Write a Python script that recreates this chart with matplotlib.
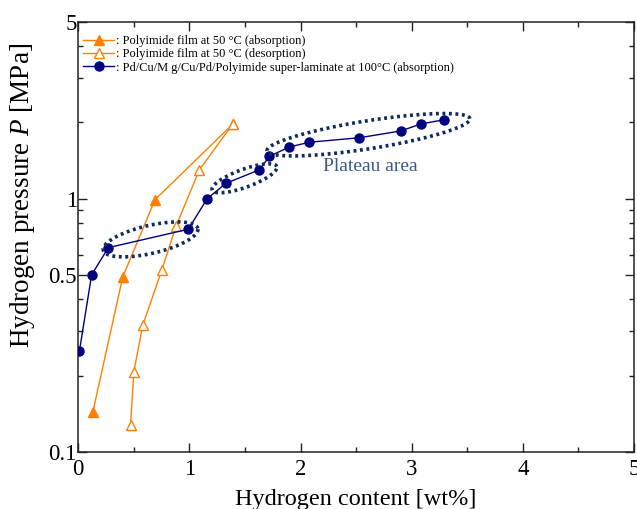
import numpy as np
import matplotlib
matplotlib.use("Agg")
import matplotlib.pyplot as plt
from matplotlib.ticker import FixedLocator, NullFormatter, FixedFormatter

plt.rcParams['font.family'] = ['Liberation Serif', 'DejaVu Serif']
plt.rcParams['mathtext.fontset'] = 'custom'
plt.rcParams['mathtext.rm'] = 'Liberation Serif'
plt.rcParams['mathtext.it'] = 'Liberation Serif:italic'

# ---- data ----
abs_x = [0.13, 0.40, 0.69, 1.39]
abs_p = [0.143, 0.49, 0.99, 1.97]

des_x = [1.39, 1.09, 0.88, 0.75, 0.58, 0.50, 0.47]
des_p = [1.97, 1.30, 0.78, 0.52, 0.316, 0.207, 0.127]

lam_x = [0.01, 0.12, 0.27, 0.99, 1.16, 1.33, 1.63, 1.72, 1.90, 2.08, 2.53, 2.90, 3.08, 3.29]
lam_p = [0.25, 0.50, 0.64, 0.757, 1.00, 1.15, 1.30, 1.47, 1.60, 1.67, 1.74, 1.85, 1.97, 2.05]

labels = [": Polyimide film at 50 °C (absorption)",
          ": Polyimide film at 50 °C (desorption)",
          ": Pd/Cu/M g/Cu/Pd/Polyimide super-laminate at 100°C (absorption)"]

# ellipses: center (x, P), semi-axes in pixels, angle deg
ell_cx = [0.65, 1.495, 2.611]
ell_cp = [0.690, 1.203, 1.788]
ell_a = [48.5, 34.4, 102.7]
ell_b = [14.0, 9.0, 14.0]
ell_ang = [13, 20, 9]

orange = '#FF8000'
navy = '#00007F'
dotc = '#0F2A5E'

fig = plt.figure(figsize=(6.37, 5.09), dpi=100)
ax = fig.add_axes([78.3/637, 1-451.7/509, (634-78.3)/637, (451.7-21.7)/509])

ax.plot(abs_x, abs_p, color=orange, lw=1.0, marker='^', ms=7.5, mfc=orange, mec=orange, label=labels[0], zorder=3)
ax.plot(des_x, des_p, color=orange, lw=1.0, marker='^', ms=7.5, mfc='white', mec=orange, label=labels[1], zorder=3)
ax.plot(lam_x, lam_p, color=navy, lw=1.0, marker='o', ms=6.5, mfc=navy, mec=navy, label=labels[2], zorder=4)

ax.set_xscale('linear')
ax.set_yscale('log')
ax.set_xlim(0, 5)
ax.set_ylim(0.1, 5)

ax.xaxis.set_major_locator(FixedLocator([0, 1, 2, 3, 4, 5]))
ax.xaxis.set_minor_locator(FixedLocator([0.5, 1.5, 2.5, 3.5, 4.5]))
ax.set_xticklabels(['0', '1', '2', '3', '4', '5'])
ax.yaxis.set_major_locator(FixedLocator([0.1, 0.5, 1, 5]))
ax.yaxis.set_major_formatter(FixedFormatter(['0.1', '0.5', '1', '5']))
ax.yaxis.set_minor_locator(FixedLocator([0.2, 0.3, 0.4, 0.6, 0.7, 0.8, 0.9, 2, 3, 4]))
ax.yaxis.set_minor_formatter(NullFormatter())

ax.tick_params(which='both', direction='in', top=True, right=True, labelsize=16.5, width=1.0, colors='#222222', labelcolor='black')
ax.tick_params(which='major', length=6.5)
ax.tick_params(axis='x', which='major', pad=5)
ax.tick_params(axis='y', which='major', pad=1)
ax.tick_params(which='minor', length=3.5)
for s in ax.spines.values():
    s.set_linewidth(1.1)
    s.set_color('#222222')

ax.set_xlabel('Hydrogen content [wt%]', fontsize=17.5, labelpad=7)
ax.set_ylabel('Hydrogen pressure $P$ [MPa]', fontsize=19.5)
ax.yaxis.set_label_coords(-0.074, 0.597)

# dotted ellipses drawn in display space
fig.canvas.draw()
t = np.linspace(0, 2*np.pi, 300)
for cx, cp, a, b, ang in zip(ell_cx, ell_cp, ell_a, ell_b, ell_ang):
    c = ax.transData.transform((cx, cp))
    th = np.deg2rad(ang)
    px = c[0] + a*np.cos(t)*np.cos(th) - b*np.sin(t)*np.sin(th)
    py = c[1] + a*np.cos(t)*np.sin(th) + b*np.sin(t)*np.cos(th)
    d = ax.transData.inverted().transform(np.column_stack([px, py]))
    ax.plot(d[:, 0], d[:, 1], color=dotc, lw=2.6, ls=(0, (0.8, 1.0)), zorder=5)

ax.text(2.2, 1.336, 'Plateau area', color='#3A5A8C', fontsize=14, ha='left', va='center')

leg = ax.legend(loc='upper left', bbox_to_anchor=(0.0, 0.98), frameon=False, fontsize=8.9,
                handlelength=2.5, handletextpad=0.15, labelspacing=0.1, borderpad=0.2, borderaxespad=0.2)

fig.savefig('out.png', dpi=100)
